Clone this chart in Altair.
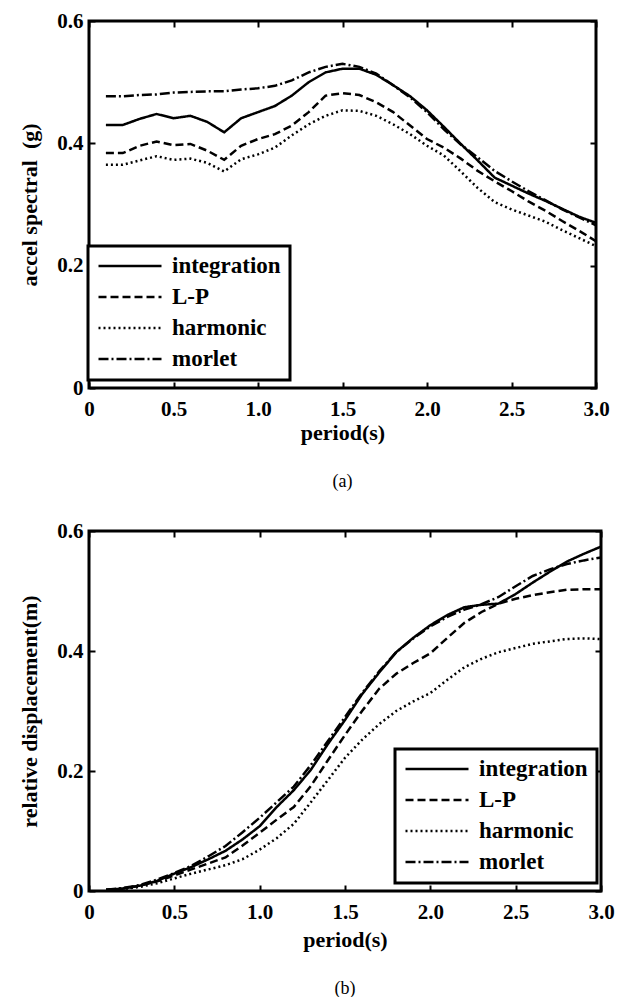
import altair as alt
import pandas as pd

periods = [0.1, 0.2, 0.3, 0.4, 0.5, 0.6, 0.7, 0.8, 0.9, 1.0,
           1.1, 1.2, 1.3, 1.4, 1.5, 1.6, 1.7, 1.8, 1.9, 2.0,
           2.1, 2.2, 2.3, 2.4, 2.5, 2.6, 2.7, 2.8, 2.9, 3.0]
series_names = ["integration", "L-P", "harmonic", "morlet"]

# (a) acceleration spectra (g)
integration_a = [0.430, 0.430, 0.440, 0.448, 0.441, 0.445, 0.435, 0.418, 0.441, 0.451,
                 0.461, 0.478, 0.500, 0.516, 0.522, 0.522, 0.512, 0.495, 0.477, 0.454,
                 0.427, 0.399, 0.372, 0.344, 0.331, 0.318, 0.306, 0.293, 0.280, 0.270]
lp_a = [0.384, 0.384, 0.396, 0.403, 0.397, 0.399, 0.388, 0.373, 0.396, 0.407,
        0.415, 0.429, 0.451, 0.478, 0.482, 0.479, 0.467, 0.451, 0.429, 0.407,
        0.393, 0.375, 0.355, 0.338, 0.322, 0.305, 0.290, 0.273, 0.257, 0.240]
harmonic_a = [0.365, 0.365, 0.372, 0.379, 0.373, 0.375, 0.368, 0.354, 0.374, 0.382,
              0.393, 0.413, 0.431, 0.445, 0.454, 0.453, 0.445, 0.431, 0.415, 0.396,
              0.380, 0.354, 0.327, 0.304, 0.292, 0.282, 0.272, 0.258, 0.245, 0.232]
morlet_a = [0.477, 0.477, 0.479, 0.480, 0.483, 0.484, 0.485, 0.485, 0.488, 0.490,
            0.494, 0.503, 0.516, 0.525, 0.530, 0.525, 0.514, 0.495, 0.475, 0.451,
            0.423, 0.398, 0.377, 0.355, 0.338, 0.322, 0.307, 0.292, 0.279, 0.266]

# (b) relative displacement spectra (m)
integration_b = [0.002, 0.004, 0.009, 0.017, 0.029, 0.040, 0.053, 0.067, 0.086, 0.108,
                 0.140, 0.168, 0.202, 0.245, 0.285, 0.328, 0.364, 0.398, 0.422, 0.443,
                 0.460, 0.473, 0.477, 0.479, 0.495, 0.514, 0.532, 0.549, 0.562, 0.574]
lp_b = [0.002, 0.004, 0.009, 0.016, 0.026, 0.036, 0.046, 0.056, 0.076, 0.097,
        0.119, 0.140, 0.175, 0.218, 0.260, 0.300, 0.337, 0.362, 0.380, 0.396,
        0.422, 0.447, 0.465, 0.479, 0.487, 0.493, 0.498, 0.502, 0.503, 0.503]
harmonic_b = [0.001, 0.003, 0.007, 0.013, 0.021, 0.029, 0.036, 0.043, 0.053, 0.069,
              0.088, 0.112, 0.148, 0.185, 0.222, 0.252, 0.278, 0.300, 0.316, 0.330,
              0.352, 0.373, 0.387, 0.398, 0.405, 0.412, 0.416, 0.420, 0.421, 0.420]
morlet_b = [0.002, 0.005, 0.010, 0.019, 0.030, 0.042, 0.058, 0.075, 0.098, 0.122,
            0.148, 0.174, 0.210, 0.250, 0.290, 0.330, 0.366, 0.398, 0.421, 0.441,
            0.457, 0.469, 0.478, 0.490, 0.508, 0.525, 0.536, 0.545, 0.551, 0.556]

x_ticks = [0, 0.5, 1.0, 1.5, 2.0, 2.5, 3.0]
y_ticks = [0, 0.2, 0.4, 0.6]
dash_patterns = [[1, 0], [8, 4], [2, 3], [10, 3, 2, 3]]

FONT = "Liberation Serif"
LABEL_EXPR = "datum.value == 0 ? '0' : format(datum.value, '.1f')"


def long_frame(cols):
    rows = []
    for name, vals in zip(series_names, cols):
        for p, v in zip(periods, vals):
            rows.append({"period": p, "value": v, "series": name})
    return pd.DataFrame(rows)


def panel(df, ytitle, w, h, lx, ly, xtitle_pad, caption):
    xs = alt.Scale(domain=[0, 3], nice=False, zero=False)
    ys = alt.Scale(domain=[0, 0.6], nice=False)
    lines = alt.Chart(df).mark_line(color="black", strokeWidth=2.5).encode(
        x=alt.X("period:Q", scale=xs,
                axis=alt.Axis(orient="bottom", values=x_ticks, offset=-6, tickSize=6,
                              domain=False, grid=False, labelPadding=10,
                              labelFlush=False, labelExpr=LABEL_EXPR,
                              title="period(s)", titlePadding=xtitle_pad)),
        y=alt.Y("value:Q", scale=ys,
                axis=alt.Axis(orient="left", values=y_ticks, offset=-6, tickSize=6,
                              domain=False, grid=False, labelPadding=6,
                              labelFlush=False, labelExpr=LABEL_EXPR,
                              title=ytitle, titlePadding=15)),
        strokeDash=alt.StrokeDash(
            "series:N",
            scale=alt.Scale(domain=series_names, range=dash_patterns),
            legend=alt.Legend(orient="none", legendX=lx, legendY=ly, title=None,
                              symbolType="stroke", symbolSize=3969,
                              symbolStrokeWidth=2.5, symbolStrokeColor="black",
                              labelFont=FONT, labelFontSize=23, labelFontWeight="bold",
                              labelColor="black", labelOffset=9,
                              strokeColor="black", fillColor="white",
                              padding=9, rowPadding=8, clipHeight=22)),
    )
    ghost = alt.Chart(df).mark_line(strokeOpacity=0).encode(
        x=alt.X("period:Q", scale=xs,
                axis=alt.Axis(orient="top", values=x_ticks, offset=-6, tickSize=6,
                              domain=False, grid=False, labels=False, title=None)),
        y=alt.Y("value:Q", scale=ys,
                axis=alt.Axis(orient="right", values=y_ticks, offset=-6, tickSize=6,
                              domain=False, grid=False, labels=False, title=None)),
        detail="series:N",
    )
    return alt.layer(lines, ghost).resolve_axis(x="independent", y="independent").properties(
        width=w, height=h,
        title=alt.TitleParams(caption, orient="bottom", anchor="middle", font=FONT,
                              fontSize=18, fontWeight="normal", color="black", offset=30),
    )


top = panel(long_frame([integration_a, lp_a, harmonic_a, morlet_a]),
            "accel spectral\u00a0 (g)", 507, 367, -1, 225, 3, "(a)")
bottom = panel(long_frame([integration_b, lp_b, harmonic_b, morlet_b]),
               "relative displacement(m)", 512, 360, 306, 218, 7, "(b)")

chart = alt.concat(top, bottom, columns=1, spacing=25).resolve_scale(
    strokeDash="independent").resolve_legend(strokeDash="independent").properties(
    padding={"left": 17, "top": 8, "right": 0, "bottom": 0}
).configure_view(stroke="black", strokeWidth=3).configure_axis(
    labelFont=FONT, labelFontSize=21, labelFontWeight="bold", labelColor="black",
    titleFont=FONT, titleFontSize=22, titleFontWeight="bold", titleColor="black",
    tickColor="black", tickWidth=2, labelOverlap=False
).configure_legend(strokeWidth=3)

chart.save("out.html", embed_options={"renderer": "svg", "actions": False})
